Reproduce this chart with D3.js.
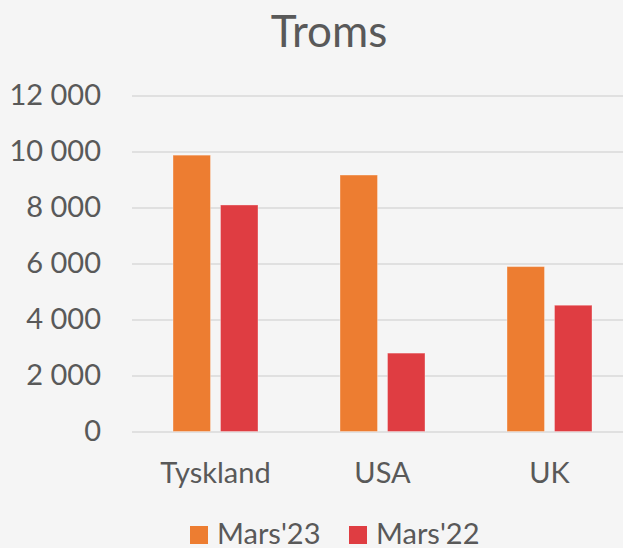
<!DOCTYPE html>
<html>
<head>
<meta charset="utf-8">
<script src="https://cdn.jsdelivr.net/npm/d3@7"></script>
<style>
  html, body { margin: 0; padding: 0; background: #f5f5f5; }
  svg { display: block; font-family: Lato, "Open Sans", sans-serif; }
</style>
</head>
<body>
<svg id="chart" width="623" height="548"></svg>
<script>
// data
const categories = ["Tyskland", "USA", "UK"];
const seriesNames = ["Mars'23", "Mars'22"];
const mars23 = [9870, 9160, 5890];
const mars22 = [8090, 2800, 4510];
const yTicks = [0, 2000, 4000, 6000, 8000, 10000, 12000];

const colors = {"Mars'23": "#ed7d31", "Mars'22": "#df3d42"};
const textColor = "#595959";

var svg = d3.select("#chart"),
  margin = {top: 95.5, left: 132, bottom: 116.5},
  width = +svg.attr("width"),
  height = +svg.attr("height");

// plot runs a little past the right edge, like the cropped original
var plotRight = margin.left + 501;

var rows = categories.map((c, i) => ({
  category: c,
  values: [
    {key: seriesNames[0], value: mars23[i]},
    {key: seriesNames[1], value: mars22[i]}
  ]
}));

var x0 = d3.scaleBand()
  .domain(categories)
  .range([margin.left, plotRight])
  .paddingInner(0.491)
  .paddingOuter(0.2455);

var x1 = d3.scaleBand()
  .domain(seriesNames)
  .range([0, x0.bandwidth()])
  .paddingInner(0.21);

var y = d3.scaleLinear()
  .domain([0, 12000])
  .range([height - margin.bottom, margin.top]);

var fmt = d3.formatLocale({decimal: ",", thousands: " ", grouping: [3], currency: ["", ""]}).format(",d");

// title
svg.append("text")
  .attr("x", 329)
  .attr("y", 46.5)
  .attr("text-anchor", "middle")
  .attr("fill", textColor)
  .style("font-size", "44px")
  .text("Troms");

// y axis + gridlines
var yAxis = svg.append("g")
  .attr("transform", "translate(" + margin.left + ",0)")
  .call(d3.axisLeft(y).tickValues(yTicks).tickFormat(fmt)
    .tickSize(-(plotRight - margin.left)).tickPadding(31));

yAxis.select(".domain").remove();
yAxis.selectAll(".tick line")
  .attr("stroke", "#d9d9d9")
  .attr("stroke-width", 1.5);
yAxis.selectAll(".tick text")
  .attr("fill", textColor)
  .style("font-size", "29px")
  .style("font-family", "Lato, sans-serif");

// bars
var groups = svg.selectAll(".group").data(rows)
  .enter().append("g")
  .attr("class", "group")
  .attr("transform", d => "translate(" + x0(d.category) + ",0)");

groups.selectAll("rect").data(d => d.values)
  .enter().append("rect")
  .attr("x", d => x1(d.key))
  .attr("y", d => y(d.value))
  .attr("width", x1.bandwidth())
  .attr("height", d => y(0) - y(d.value))
  .attr("fill", d => colors[d.key])
  .attr("stroke", "rgba(255,255,255,0.35)")
  .attr("stroke-width", 1);

// category labels
var xAxis = svg.append("g")
  .attr("transform", "translate(0," + y(0) + ")")
  .call(d3.axisBottom(x0).tickSize(0).tickPadding(0));

xAxis.select(".domain").remove();
xAxis.selectAll(".tick text")
  .attr("dy", null)
  .attr("y", 51.5)
  .attr("fill", textColor)
  .style("font-size", "29px")
  .style("font-family", "Lato, sans-serif");

// legend
var legendX = [190, 349];
var legend = svg.selectAll(".legend").data(seriesNames)
  .enter().append("g")
  .attr("class", "legend")
  .attr("transform", (d, i) => "translate(" + legendX[i] + ",526)");

legend.append("rect")
  .attr("width", 18)
  .attr("height", 18)
  .attr("fill", d => colors[d]);

legend.append("text")
  .attr("x", 27)
  .attr("y", 18)
  .attr("fill", textColor)
  .style("font-size", "29px")
  .text(d => d);
</script>
</body>
</html>
